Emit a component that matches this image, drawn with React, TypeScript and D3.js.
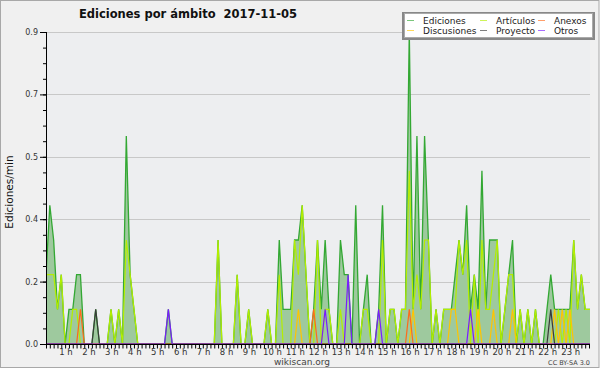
import { useEffect, useRef } from "react";
import * as d3 from "d3";

const WIDTH = 600;
const HEIGHT = 370;
const PLOT = { left: 46, right: 590, top: 32, bottom: 344 };
const STEP = 3.824;

// edits per minute, one value per 10 minutes (00:00 .. 23:50)
const EDICIONES = [
  0.2, 0.4, 0.3, 0.1, 0.2, 0, 0.1, 0.1, 0.2, 0.2, 0, 0,
  0, 0.1, 0, 0, 0, 0.1, 0, 0.1, 0, 0.6, 0.2, 0.1,
  0, 0, 0, 0, 0, 0, 0, 0, 0.1, 0, 0, 0,
  0, 0, 0, 0, 0, 0, 0, 0, 0, 0.3, 0, 0,
  0, 0, 0.2, 0, 0, 0.1, 0, 0, 0, 0, 0.1, 0,
  0, 0.3, 0.1, 0.1, 0.1, 0.3, 0.3, 0.4, 0.2, 0, 0.1, 0.3,
  0.1, 0.3, 0.1, 0, 0, 0.3, 0.2, 0.2, 0, 0.4, 0, 0.1,
  0.2, 0, 0, 0.1, 0.4, 0, 0.1, 0.1, 0, 0.1, 0.1, 0.9,
  0.1, 0.6, 0.1, 0.6, 0.3, 0, 0.1, 0, 0.1, 0.1, 0.1, 0.2,
  0.3, 0.2, 0.4, 0.1, 0.2, 0.1, 0.5, 0.1, 0.3, 0.3, 0.3, 0,
  0.1, 0.2, 0.3, 0, 0.1, 0, 0.1, 0, 0.1, 0, 0, 0.1,
  0.2, 0.1, 0.1, 0.1, 0.1, 0.1, 0.3, 0.1, 0.2, 0.1, 0.1, 0.1,
];

const ARTICULOS = [
  0.2, 0.2, 0.2, 0.1, 0.2, 0, 0, 0.1, 0.1, 0, 0, 0,
  0, 0, 0, 0, 0, 0.1, 0, 0.1, 0, 0.3, 0.2, 0.1,
  0, 0, 0, 0, 0, 0, 0, 0, 0, 0, 0, 0,
  0, 0, 0, 0, 0, 0, 0, 0, 0, 0.3, 0, 0,
  0, 0, 0.2, 0, 0, 0.1, 0, 0, 0, 0, 0.1, 0,
  0, 0.2, 0, 0, 0, 0.3, 0.2, 0.4, 0.2, 0, 0, 0.3,
  0, 0.1, 0.1, 0, 0, 0.1, 0, 0, 0, 0, 0, 0.1,
  0.1, 0, 0, 0, 0.3, 0, 0.1, 0.1, 0, 0.1, 0.1, 0.5,
  0.1, 0.2, 0.1, 0.3, 0.3, 0, 0.1, 0, 0.1, 0.1, 0.1, 0.1,
  0.3, 0.2, 0.3, 0, 0.2, 0, 0.3, 0.1, 0.1, 0.2, 0.3, 0,
  0.1, 0.2, 0.2, 0, 0.1, 0, 0.1, 0, 0.1, 0, 0, 0,
  0, 0, 0.1, 0, 0.1, 0, 0.3, 0.1, 0.2, 0.1, 0.1, 0.1,
];

// sparse series: [slot, value]
const DISCUSIONES: [number, number][] = [
  [66, 0.1], [96, 0.1], [106, 0.1], [107, 0.1], [113, 0.1], [117, 0.1],
  [122, 0.1], [133, 0.1], [135, 0.1], [137, 0.1],
];
const ANEXOS: [number, number][] = [[9, 0.1], [70, 0.1], [95, 0.1]];
const PROYECTO: [number, number][] = [[13, 0.1], [132, 0.1]];
const OTROS: [number, number][] = [
  [32, 0.1], [73, 0.1], [79, 0.2], [87, 0.1], [111, 0.1],
];

const LEGEND = [
  ["Ediciones", "Artículos", "Anexos"],
  ["Discusiones", "Proyecto", "Otros"],
];
const HOUR_LABELS = [
  "1 h", "2 h", "3 h", "4 h", "5 h", "6 h", "7 h", "8 h", "9 h", "10 h", "11 h", "12 h",
  "13 h", "14 h", "15 h", "16 h", "17 h", "18 h", "19 h", "20 h", "21 h", "22 h", "23 h",
];
const Y_MAX = 0.9;

const COLORS: Record<string, string> = {
  Ediciones: "#33a833",
  Artículos: "#b4ee00",
  Discusiones: "#ffc400",
  Anexos: "#ff6a1a",
  Proyecto: "#3a3a3a",
  Otros: "#7a1cff",
};
const FONT = "DejaVu Sans, Verdana, sans-serif";

function expand(points: [number, number][]) {
  const out = new Array(EDICIONES.length).fill(0);
  points.forEach(([i, v]) => (out[i] = v));
  return out;
}

function Chart() {
  const svgRef = useRef<SVGSVGElement>(null);

  useEffect(() => {
    if (!svgRef.current) return;
    const svg = d3.select(svgRef.current);
    svg.selectAll("*").remove();

    const n = EDICIONES.length;
    const x = d3
      .scaleLinear()
      .domain([0, n - 1])
      .range([PLOT.left, PLOT.left + (n - 1) * STEP]);
    const y = d3.scaleLinear().domain([0, Y_MAX]).range([PLOT.bottom, PLOT.top]);

    svg
      .append("rect")
      .attr("x", 0.5)
      .attr("y", 0.5)
      .attr("width", WIDTH - 1.5)
      .attr("height", HEIGHT - 3)
      .attr("fill", "#f0f0f0")
      .attr("stroke", "#a8a8a8");

    svg
      .append("rect")
      .attr("x", PLOT.left)
      .attr("y", PLOT.top)
      .attr("width", PLOT.right - PLOT.left)
      .attr("height", PLOT.bottom - PLOT.top)
      .attr("fill", "#edeef0");

    svg
      .append("clipPath")
      .attr("id", "plot-clip")
      .append("rect")
      .attr("x", PLOT.left)
      .attr("y", PLOT.top - 2)
      .attr("width", PLOT.right - PLOT.left)
      .attr("height", PLOT.bottom - PLOT.top + 2);

    const majors = d3.range(1, 6).map((k) => (Y_MAX * k) / 5);
    svg
      .append("g")
      .selectAll("line")
      .data(majors)
      .join("line")
      .attr("x1", PLOT.left)
      .attr("x2", PLOT.right)
      .attr("y1", (d) => Math.round(y(d)) + 0.5)
      .attr("y2", (d) => Math.round(y(d)) + 0.5)
      .attr("stroke", "#c8c8c8");

    const g = svg.append("g").attr("clip-path", "url(#plot-clip)");
    const idx = d3.range(n);

    g.append("path")
      .datum(idx)
      .attr("fill", "#9ec99e")
      .attr(
        "d",
        d3
          .area<number>()
          .x((i) => x(i))
          .y0(PLOT.bottom)
          .y1((i) => y(EDICIONES[i]))
      );

    const line = (vals: number[]) =>
      d3
        .line<number>()
        .x((i) => x(i))
        .y((i) => y(vals[i]))(idx);

    const series: [string, number[]][] = [
      ["Ediciones", EDICIONES],
      ["Artículos", ARTICULOS],
      ["Discusiones", expand(DISCUSIONES)],
      ["Anexos", expand(ANEXOS)],
      ["Proyecto", expand(PROYECTO)],
      ["Otros", expand(OTROS)],
    ];
    series.forEach(([name, vals]) => {
      g.append("path")
        .attr("d", line(vals))
        .attr("fill", "none")
        .attr("stroke", COLORS[name])
        .attr("stroke-width", name === "Ediciones" ? 1.3 : 1.2)
        .attr("stroke-linejoin", "miter");
    });

    // y axis
    const yAxis = svg.append("g").attr("transform", `translate(${PLOT.left},0)`);
    yAxis
      .call(
        d3
          .axisLeft(y)
          .tickValues(d3.range(0, 21).map((k) => (Y_MAX * k) / 20))
          .tickSize(3)
          .tickFormat(() => "")
      )
      .call((a) => a.select(".domain").remove());
    yAxis
      .append("g")
      .call(
        d3
          .axisLeft(y)
          .tickValues([0, ...majors])
          .tickSize(6)
          .tickPadding(2)
          .tickFormat(d3.format(".1f"))
      )
      .call((a) => a.select(".domain").remove())
      .selectAll("text")
      .style("font-family", FONT)
      .style("font-size", "8px")
      .style("fill", "#333");
    yAxis.selectAll("line").attr("stroke", "#000");
    svg
      .append("line")
      .attr("x1", PLOT.left + 0.5)
      .attr("x2", PLOT.left + 0.5)
      .attr("y1", PLOT.top)
      .attr("y2", PLOT.bottom)
      .attr("stroke", "#000");

    // x axis
    const xAxis = svg.append("g").attr("transform", `translate(0,${PLOT.bottom + 0.5})`);
    xAxis
      .call(
        d3
          .axisBottom(x)
          .tickValues(idx.filter((i) => x(i) <= PLOT.right))
          .tickSize(4)
          .tickFormat(() => "")
      )
      .call((a) => a.select(".domain").remove());
    xAxis.selectAll("line").attr("stroke", "#000");
    xAxis
      .append("line")
      .attr("x1", PLOT.left)
      .attr("x2", PLOT.right)
      .attr("stroke", "#000");
    xAxis
      .selectAll("text.hour")
      .data(HOUR_LABELS)
      .join("text")
      .attr("class", "hour")
      .attr("x", (_, h) => x((h + 1) * 6) - 3)
      .attr("y", 10)
      .attr("text-anchor", "middle")
      .attr("font-family", FONT)
      .attr("font-size", "8.5px")
      .attr("fill", "#333")
      .text((d) => d);

    svg
      .append("text")
      .attr("transform", `translate(13,${(PLOT.top + PLOT.bottom) / 2 + 4}) rotate(-90)`)
      .attr("text-anchor", "middle")
      .attr("font-family", FONT)
      .attr("font-size", "10.5px")
      .attr("fill", "#111")
      .text("Ediciones/min");

    svg
      .append("text")
      .attr("x", 188)
      .attr("y", 18)
      .attr("text-anchor", "middle")
      .attr("font-family", FONT)
      .attr("font-weight", "bold")
      .attr("font-size", "11.5px")
      .attr("fill", "#111")
      .style("white-space", "pre")
      .text("Ediciones por ámbito  2017-11-05");

    svg
      .append("text")
      .attr("x", 302)
      .attr("y", 365)
      .attr("text-anchor", "middle")
      .attr("font-family", FONT)
      .attr("font-size", "9px")
      .attr("fill", "#444")
      .text("wikiscan.org");

    svg
      .append("text")
      .attr("x", 590)
      .attr("y", 365)
      .attr("text-anchor", "end")
      .attr("font-family", FONT)
      .attr("font-size", "6.5px")
      .attr("fill", "#444")
      .text("CC BY-SA 3.0");

    // legend
    const lg = svg.append("g");
    lg.append("rect")
      .attr("x", 402)
      .attr("y", 12)
      .attr("width", 193)
      .attr("height", 28)
      .attr("fill", "#888");
    lg.append("rect")
      .attr("x", 404.5)
      .attr("y", 13.5)
      .attr("width", 188)
      .attr("height", 24)
      .attr("fill", "#fff")
      .attr("stroke", "#aaa");
    const colX = [407, 480, 538];
    LEGEND.forEach((row, r) => {
      row.forEach((name, c) => {
        const yy = 20 + r * 10;
        lg.append("line")
          .attr("x1", colX[c])
          .attr("x2", colX[c] + 7)
          .attr("y1", yy + 0.5)
          .attr("y2", yy + 0.5)
          .attr("stroke", COLORS[name])
          .attr("stroke-opacity", 0.65);
        lg.append("text")
          .attr("x", colX[c] + 16)
          .attr("y", yy + 3.5)
          .attr("font-family", FONT)
          .attr("font-size", "9px")
          .attr("fill", "#222")
          .text(name);
      });
    });
  }, []);

  return <svg ref={svgRef} width={WIDTH} height={HEIGHT} style={{ display: "block" }} />;
}

export default function App() {
  return (
    <div style={{ position: "absolute", left: 0, top: 0 }}>
      <Chart />
    </div>
  );
}
